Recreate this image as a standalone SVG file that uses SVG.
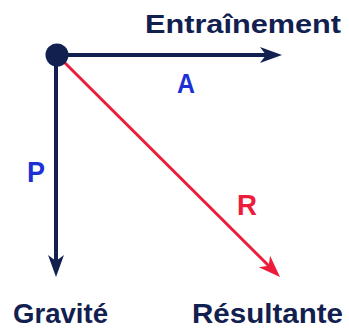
<svg xmlns="http://www.w3.org/2000/svg" width="349" height="333" viewBox="0 0 349 333">
<style>
.lbl{font-family:"Liberation Sans",Arial,sans-serif;font-weight:bold}
.navy{fill:#12204f}
.blue{fill:#1c30d6}
.red{fill:#ec1c3a}
</style>
<defs>
<marker id="hN" markerUnits="userSpaceOnUse" markerWidth="24" markerHeight="18" refX="6" refY="8" orient="auto" viewBox="0 0 24 16">
<path d="M0,0 L22,8 L0,16 L6,8 Z" fill="#12204f"/>
</marker>
<marker id="hR" markerUnits="userSpaceOnUse" markerWidth="24" markerHeight="18" refX="6" refY="8" orient="auto" viewBox="0 0 24 16">
<path d="M0,0 L22,8 L0,16 L6,8 Z" fill="#ec1c3a"/>
</marker>
</defs>
<rect width="349" height="333" fill="#ffffff"/>
<g id="connectors">
<line x1="57" y1="55" x2="268.7" y2="265.7" stroke="#ec1c3a" stroke-width="3" marker-end="url(#hR)"/>
<line x1="57" y1="55" x2="266" y2="55" stroke="#12204f" stroke-width="4" marker-end="url(#hN)"/>
<line x1="56" y1="55" x2="56" y2="261" stroke="#12204f" stroke-width="4" marker-end="url(#hN)"/>
</g>
<g id="origin">
<circle cx="57" cy="55" r="11.5" fill="#12204f"/>
</g>
<g id="entrainement">
<text class="lbl navy" x="145" y="33" font-size="26" textLength="196" lengthAdjust="spacingAndGlyphs">Entraînement</text>
</g>
<g id="label-A">
<text class="lbl blue" x="177" y="93" font-size="28" textLength="18" lengthAdjust="spacingAndGlyphs">A</text>
</g>
<g id="label-P">
<text class="lbl blue" x="27" y="182" font-size="30" textLength="18" lengthAdjust="spacingAndGlyphs">P</text>
</g>
<g id="label-R">
<text class="lbl red" x="237" y="215" font-size="29" textLength="20" lengthAdjust="spacingAndGlyphs">R</text>
</g>
<g id="gravite">
<text class="lbl navy" x="13" y="323" font-size="28" textLength="95" lengthAdjust="spacingAndGlyphs">Gravité</text>
</g>
<g id="resultante">
<text class="lbl navy" x="192" y="323" font-size="28" textLength="151" lengthAdjust="spacingAndGlyphs">Résultante</text>
</g>
</svg>
